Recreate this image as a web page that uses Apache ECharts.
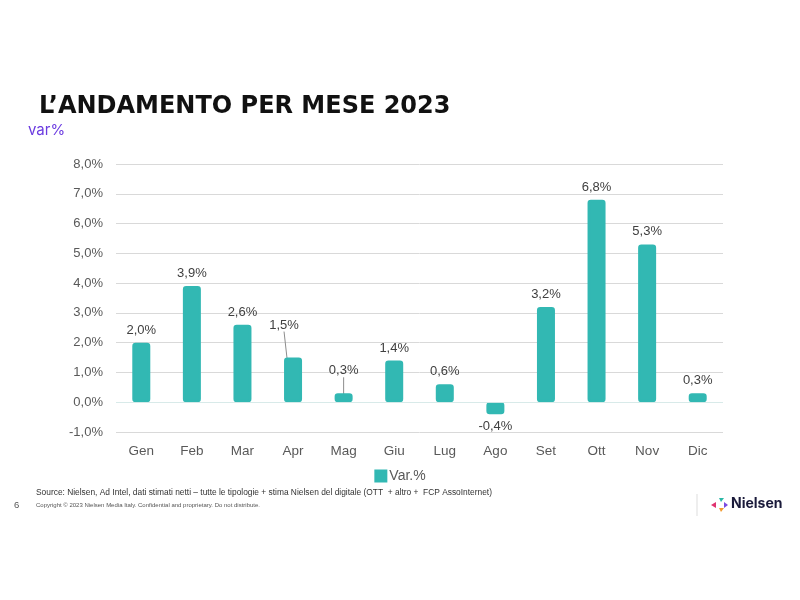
<!DOCTYPE html>
<html><head><meta charset="utf-8">
<script src="https://cdn.jsdelivr.net/npm/echarts@6/dist/echarts.min.js"></script>
<style>html,body{margin:0;padding:0;background:#fff}#c{width:800px;height:600px}</style>
</head><body><div id="c"></div>
<script>
const categories = ['Gen','Feb','Mar','Apr','Mag','Giu','Lug','Ago','Set','Ott','Nov','Dic'];
const values = [2.0,3.9,2.6,1.5,0.3,1.4,0.6,-0.4,3.2,6.8,5.3,0.3];
const seriesName = 'Var.%';
const fmt = v => v.toFixed(1).replace('.', ',') + '%';

const chart = echarts.init(document.getElementById('c'));
const data = values.map((v, i) => {
  const item = { value: v };
  if (v < 0) item.label = { position: 'bottom' };
  if (i === 3 || i === 4) item.labelLine = { show: true };
  return item;
});
chart.setOption({
  animation: false,
  textStyle: { fontFamily: 'Arial, Liberation Sans, sans-serif' },
  title: [
    { text: 'L\u2019ANDAMENTO PER MESE 2023', left: 34, top: 90,
      textStyle: { fontFamily: 'DejaVu Sans, Arial, sans-serif', fontSize: 24, fontWeight: 'bold', color: '#111' } },
    { text: 'var%', left: 23, top: 118, textStyle: { fontSize: 15, fontWeight: 'normal', color: '#6b3be0', fontFamily: 'Inter, sans-serif' } }
  ],
  legend: { bottom: 112, left: 'center', itemWidth: 11, itemHeight: 11, icon: 'rect', itemGap: 4,
    textStyle: { color: '#595959', fontSize: 14, padding: [0,0,0,-2] }, data: [seriesName] },
  grid: { left: 116, right: 77, top: 164, bottom: 168 },
  xAxis: { type: 'category', data: categories,
    axisLine: { show: false }, axisTick: { show: false },
    axisLabel: { color: '#595959', fontSize: 13.5, margin: 12 } },
  yAxis: { type: 'value', min: -1, max: 8, interval: 1,
    axisLabel: { color: '#595959', fontSize: 13, margin: 13, formatter: v => fmt(v) },
    splitLine: { lineStyle: { color: '#d9d9d9', width: 1 } } },
  series: [{
    name: seriesName, type: 'bar', data: data, barWidth: 18,
    itemStyle: { color: '#32b8b3', borderColor: '#32b8b3', borderWidth: 2.5, borderRadius: 2 },
    label: { show: true, position: 'top', color: '#404040', fontSize: 13, distance: 6,
      formatter: p => fmt(p.value) },
    labelLine: { show: false, lineStyle: { color: '#8c8c8c', width: 1 } },
    labelLayout: p => {
      if (p.dataIndex === 3) return { dx: -9, dy: -20 };
      if (p.dataIndex === 4) return { dy: -10 };
      return {};
    },
    markLine: { silent: true, symbol: 'none', label: { show: false },
      lineStyle: { color: 'rgba(215,235,234,0.9)', type: 'solid', width: 1 }, data: [{ yAxis: 0 }] }
  }],
  graphic: [
    { type: 'text', left: 36, top: 489, style: { text: 'Source: Nielsen, Ad Intel, dati stimati netti \u2013 tutte le tipologie + stima Nielsen del digitale (OTT  + altro +  FCP AssoInternet)', fontSize: 8.4, fill: '#333', fontFamily: 'Arial, sans-serif' } },
    { type: 'text', left: 36, top: 502, style: { text: 'Copyright \u00a9 2023 Nielsen Media Italy. Confidential and proprietary. Do not distribute.', fontSize: 6, fill: '#555', fontFamily: 'Arial, sans-serif' } },
    { type: 'text', left: 14, top: 500, style: { text: '6', fontSize: 9.5, fill: '#555', fontFamily: 'Arial, sans-serif' } },
    { type: 'line', shape: { x1: 697, y1: 494, x2: 697, y2: 516 }, style: { stroke: '#ddd', lineWidth: 1 } },
    { type: 'polygon', shape: { points: [[711,505],[716,502],[716,508]] }, style: { fill: '#e0336f' } },
    { type: 'polygon', shape: { points: [[719,498],[724,498],[721,502]] }, style: { fill: '#2ab8a6' } },
    { type: 'polygon', shape: { points: [[719,508],[724,508],[721,512]] }, style: { fill: '#f29a2e' } },
    { type: 'polygon', shape: { points: [[724,502],[728,505],[724,508]] }, style: { fill: '#7a4be0' } },
    { type: 'text', left: 731, top: 497, style: { text: 'Nielsen', fontSize: 14, fontWeight: 'bold', fill: '#1a1a3a', fontFamily: 'Inter, Arial, sans-serif' } }
  ]
});
</script></body></html>
